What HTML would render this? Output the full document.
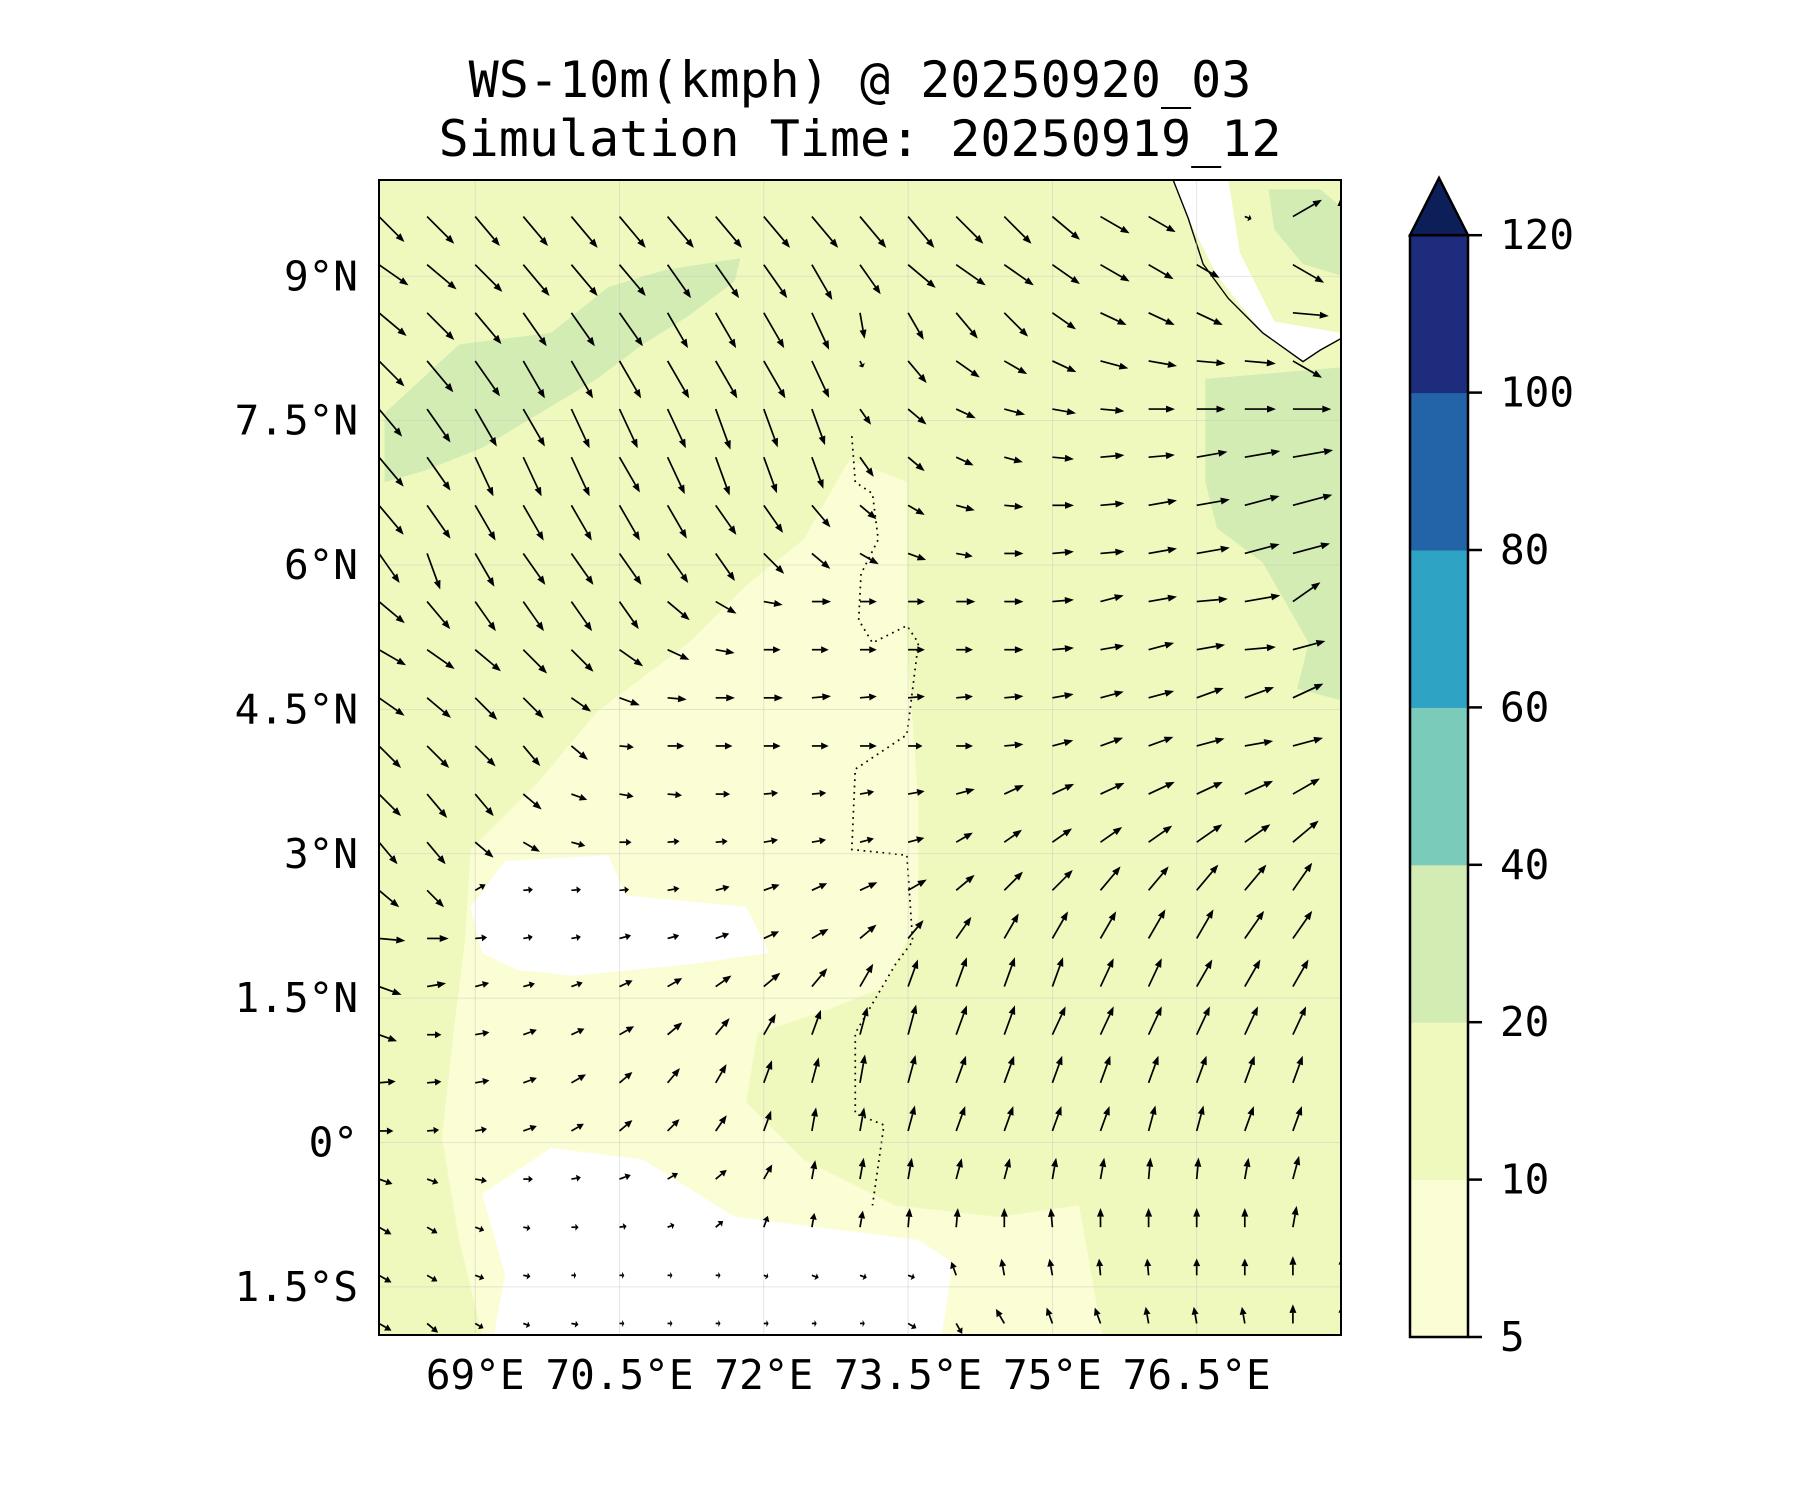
<!DOCTYPE html>
<html><head><meta charset="utf-8"><style>
html,body{margin:0;padding:0;background:#fff;}
svg{display:block;}
text{font-family:"DejaVu Sans Mono","Liberation Mono",monospace;fill:#000;}
</style></head><body>
<svg id="chart" width="1800" height="1500" viewBox="0 0 1800 1500" xmlns="http://www.w3.org/2000/svg">
<text x="860" y="97" font-size="50" text-anchor="middle">WS-10m(kmph) @ 20250920_03</text>
<text x="860" y="156" font-size="50" text-anchor="middle">Simulation Time: 20250919_12</text>
<defs><clipPath id="pc"><rect x="379" y="180" width="962" height="1155"/></clipPath></defs>
<g clip-path="url(#pc)">
<rect x="379" y="180" width="962" height="1155" fill="#eff9bd"/>
<g transform="scale(1.148)">
<polygon fill="#fbfdd4" points="740,400 790,420 790,560 800,700 800,800 770,860 720,880 660,900 650,960 700,1010 780,1050 870,1060 940,1050 960,1163 420,1163 400,1080 385,990 395,900 405,820 410,740 470,680 520,620 600,560 650,510 700,470"/>
<polygon fill="#d2ecb4" points="335,360 400,300 480,290 530,250 580,235 645,225 640,245 600,275 560,300 520,330 470,360 420,390 370,410 335,420"/>
<polygon fill="#d2ecb4" points="1050,330 1168,320 1168,610 1130,600 1140,560 1100,490 1060,460 1050,420"/>
<polygon fill="#d2ecb4" points="1105,165 1150,165 1168,180 1168,240 1135,230 1110,200"/>
<polygon fill="#ffffff" points="410,790 440,750 530,745 545,780 650,790 670,830 600,840 500,850 450,845 420,830"/>
<polygon fill="#ffffff" points="420,1040 480,1000 560,1010 640,1060 720,1070 800,1080 830,1100 820,1165 430,1165 440,1110"/>
<polygon fill="#ffffff" points="1022,157 1070,157 1080,220 1110,280 1168,290 1168,295 1135,315 1100,290 1060,240 1035,190"/>
<polyline fill="none" stroke="#000" stroke-width="1.2" points="1022,157 1035,190 1048,230 1070,260 1100,290 1135,315 1150,305 1168,295"/>
<polyline fill="none" stroke="#000" stroke-width="1.5" stroke-dasharray="1.5,4" points="742,380 745,420 760,430 765,470 750,500 748,540 760,560 790,545 800,560 790,640 745,670 742,740 790,745 795,820 780,840 745,900 745,970 770,980 760,1050"/>
</g>
<g id="grid"></g>
<g id="arrows"></g>
</g>
<rect x="379" y="180" width="962" height="1155" fill="none" stroke="#000" stroke-width="2"/>
<g id="axes"></g>
<g id="cbar"></g>
</svg>
<script>
const lonTicks=[69,70.5,72,73.5,75,76.5];
const lonLabels=["69°E","70.5°E","72°E","73.5°E","75°E","76.5°E"];
const latTicks=[9,7.5,6,4.5,3,1.5,0,-1.5];
const latLabels=["9°N","7.5°N","6°N","4.5°N","3°N","1.5°N","0°","1.5°S"];
const cbarLevels=[5,10,20,40,60,80,100,120];
const cbarColors=["#fbfdd4","#eff9bd","#d2ecb4","#7bcbba","#2ea3c4","#2363a8","#1e2c7e"];
const gridLons=[68,68.5,69,69.5,70,70.5,71,71.5,72,72.5,73,73.5,74,74.5,75,75.5,76,76.5,77,77.5,78];
const gridLats=[9.62,9.12,8.62,8.12,7.62,7.12,6.62,6.12,5.62,5.12,4.62,4.12,3.62,3.12,2.62,2.12,1.62,1.12,0.62,0.12,-0.38,-0.88,-1.38,-1.88];
const windDir=[
[-45,-45,-50,-50,-50,-50,-50,-50,-50,-50,-50,-50,-45,-45,-40,-30,-30,0,-20,30,90],
[-35,-40,-45,-50,-50,-50,-55,-55,-55,-60,-55,-40,-35,-35,-35,-30,-30,-30,0,-30,-20],
[-40,-45,-50,-55,-55,-55,-60,-60,-60,-65,-80,-60,-50,-45,-35,-25,-25,-25,0,-5,0],
[-45,-50,-55,-60,-60,-60,-60,-60,-60,-65,-65,-50,-35,-30,-25,-15,-10,-5,-5,-30,30],
[-50,-55,-60,-60,-65,-65,-65,-70,-70,-70,-55,-40,-25,-15,-10,-5,0,0,0,0,5],
[-50,-55,-65,-65,-65,-60,-65,-70,-70,-70,-55,-40,-25,-15,-5,5,5,10,10,10,15],
[-50,-55,-60,-60,-60,-60,-60,-55,-55,-50,-40,-30,-15,-5,0,5,10,10,15,15,20],
[-55,-70,-60,-55,-55,-55,-55,-55,-45,-40,-30,-20,-10,0,5,5,10,10,15,15,20],
[-40,-50,-55,-55,-55,-55,-40,-30,-10,0,0,0,0,0,5,15,10,5,10,35,30],
[-30,-35,-40,-45,-45,-35,-25,-10,0,0,0,0,0,0,5,10,15,10,5,15,15],
[-35,-40,-45,-45,-35,-20,-5,0,0,5,5,5,5,5,10,15,15,20,20,25,20],
[-45,-45,-45,-50,-40,-5,0,0,0,0,0,0,0,5,15,20,20,15,10,15,20],
[-45,-50,-50,-40,-20,-10,-5,0,5,5,10,10,15,25,25,25,25,25,25,30,35],
[-50,-50,-40,-30,-15,0,5,5,10,10,15,15,30,35,35,35,35,35,35,40,45],
[-40,-45,30,5,5,5,10,15,20,25,25,30,40,45,45,50,50,50,50,55,55],
[-5,0,5,10,10,15,15,20,25,30,40,50,55,60,60,60,60,60,55,55,55],
[-20,10,15,15,20,25,30,35,40,50,60,70,70,70,70,65,65,60,60,60,60],
[-20,0,10,20,25,30,40,50,60,70,75,75,70,70,65,65,65,65,65,65,60],
[5,5,10,20,30,40,50,60,70,75,80,75,70,70,70,70,70,70,70,70,65],
[0,5,10,20,30,40,45,55,70,80,80,75,70,70,70,70,75,75,70,70,65],
[-20,-20,-10,0,10,20,30,40,60,80,80,80,75,75,80,80,85,85,80,75,70],
[-30,-30,-20,-10,0,10,20,40,70,80,80,85,85,90,95,90,90,90,90,80,80],
[-30,-30,-20,-10,0,0,0,0,-20,-20,-20,-20,110,100,100,95,95,90,90,90,85],
[-30,-40,-30,-20,-10,0,0,0,0,0,0,-30,-60,120,110,110,100,100,100,90,85]];
const windSpd=[
[15,16,16,16,17,17,17,17,17,17,17,17,16,16,15,14,13,0,3,14,8],
[15,16,16,17,17,17,17,17,17,17,15,15,15,15,14,14,12,11,0,15,4],
[15,16,17,17,17,17,17,17,17,17,11,13,14,14,12,12,12,12,0,15,10],
[15,17,18,18,18,18,18,18,18,17,3,12,12,11,11,12,12,12,13,14,10],
[15,17,18,18,18,18,18,18,17,16,8,10,9,9,10,10,11,12,13,16,17],
[16,17,18,18,18,17,17,17,16,14,10,9,8,8,9,10,11,13,15,17,18],
[16,17,17,17,17,17,16,15,14,12,9,8,8,8,9,10,12,14,15,17,18],
[15,16,16,16,16,16,15,14,12,10,9,8,7,8,9,10,12,14,15,16,17],
[14,15,15,15,15,14,12,10,8,8,7,7,8,8,9,10,12,13,15,14,15],
[13,14,14,14,13,12,10,8,7,7,7,7,7,8,9,10,11,12,13,14,15],
[13,13,13,12,10,9,8,8,8,8,7,7,7,8,9,10,11,12,13,14,15],
[13,13,12,11,9,6,7,7,7,7,7,6,7,8,9,10,11,12,12,13,14],
[13,13,12,10,7,6,6,6,6,6,6,7,8,9,10,11,12,12,13,13,14],
[12,12,10,8,6,5,5,5,6,6,6,7,8,9,10,11,12,13,13,14,15],
[11,10,5,4,4,4,5,6,7,7,8,9,10,11,12,13,13,14,14,14,15],
[11,9,5,4,4,5,5,6,7,8,9,10,11,12,13,13,14,14,14,14,15],
[10,8,6,5,5,6,7,8,9,10,11,12,13,13,13,13,13,13,13,13,14],
[8,6,6,6,6,7,8,9,10,11,12,13,13,13,13,13,13,13,13,13,14],
[7,6,6,6,7,7,8,9,10,11,12,12,12,12,12,12,12,12,12,12,13],
[6,5,5,6,6,7,7,8,9,10,10,11,11,11,11,11,11,11,11,11,12],
[6,5,5,4,4,5,5,6,7,8,9,9,9,9,9,9,9,9,9,10,11],
[6,5,4,3,3,3,3,4,5,6,7,8,8,8,8,8,8,8,8,9,9],
[6,5,4,3,2,2,2,2,2,3,3,3,6,7,7,7,7,7,7,8,8],
[6,6,4,3,3,2,2,2,2,2,2,4,5,7,7,7,7,7,7,8,8]];

const NS='http://www.w3.org/2000/svg';
const X0=379,Y0=180,PX=96.2;
function xs(lon){return X0+(lon-68)*PX;}
function ys(lat){return Y0+(10-lat)*96.25;}
function mk(tag,attrs,parent){const e=document.createElementNS(NS,tag);for(const k in attrs)e.setAttribute(k,attrs[k]);parent.appendChild(e);return e;}

const grid=document.getElementById('grid');
lonTicks.forEach(function(v){
  const l=mk('line',{x1:xs(v),x2:xs(v),y1:180,y2:1335,stroke:'#c8c8c8','stroke-width':0.8,'stroke-opacity':0.6},grid);
  
  
});
latTicks.forEach(function(v){
  const l=mk('line',{x1:379,x2:1341,y1:ys(v),y2:ys(v),stroke:'#c8c8c8','stroke-width':0.8,'stroke-opacity':0.6},grid);
  
  
});

const ag=document.getElementById('arrows');
const SCALE=2.4;
gridLats.forEach(function(lat,j){
  gridLons.forEach(function(lon,i){
    const s=windSpd[j][i];
    if(!s)return;
    const a=windDir[j][i]*Math.PI/180;
    const L=s*SCALE;
    const x=xs(lon),y=ys(lat);
    const dx=Math.cos(a),dy=-Math.sin(a);
    const hl=Math.min(9,L*0.45),hw=3.5;
    const bx=x+dx*(L-hl),by=y+dy*(L-hl);
    const tx=x+dx*L,ty=y+dy*L;
    const g=mk('g',{},ag);
    
    
    mk('line',{x1:x,y1:y,x2:bx,y2:by,stroke:'#000','stroke-width':1.7},g);
    mk('polygon',{points:tx+','+ty+' '+(bx-dy*hw)+','+(by+dx*hw)+' '+(bx+dy*hw)+','+(by-dx*hw),fill:'#000'},g);
  });
});

const ax=document.getElementById('axes');
lonTicks.forEach(function(v,i){
  const t=mk('text',{x:xs(v),y:1389,'font-size':41,'text-anchor':'middle'},ax);
  t.textContent=lonLabels[i];
  
  
});
latTicks.forEach(function(v,i){
  const t=mk('text',{x:358,y:ys(v)+14,'font-size':41,'text-anchor':'end'},ax);
  t.textContent=latLabels[i];
  
  
});

const cb=document.getElementById('cbar');
const CB_X=1410,CB_W=58,CB_BOT=1337,CB_STEP=157.4;
function cy(k){return CB_BOT-k*CB_STEP;}
cbarColors.forEach(function(c,k){
  const r=mk('rect',{x:CB_X,y:cy(k+1),width:CB_W,height:CB_STEP+0.5,fill:c},cb);
  
  
});
const tri=mk('polygon',{points:CB_X+','+cy(7)+' '+(CB_X+CB_W/2)+',178 '+(CB_X+CB_W)+','+cy(7),fill:'#0c1f58',stroke:'#000','stroke-width':2.5},cb);


const fr=mk('rect',{x:CB_X,y:cy(7),width:CB_W,height:7*CB_STEP,fill:'none',stroke:'#000','stroke-width':2.5},cb);


cbarLevels.forEach(function(v,k){
  mk('line',{x1:CB_X+CB_W,x2:CB_X+CB_W+14,y1:cy(k),y2:cy(k),stroke:'#000','stroke-width':2.5},cb);
  const t=mk('text',{x:1500,y:cy(k)+14,'font-size':41},cb);
  t.textContent=v;
  
  
});
</script>
</body></html>
